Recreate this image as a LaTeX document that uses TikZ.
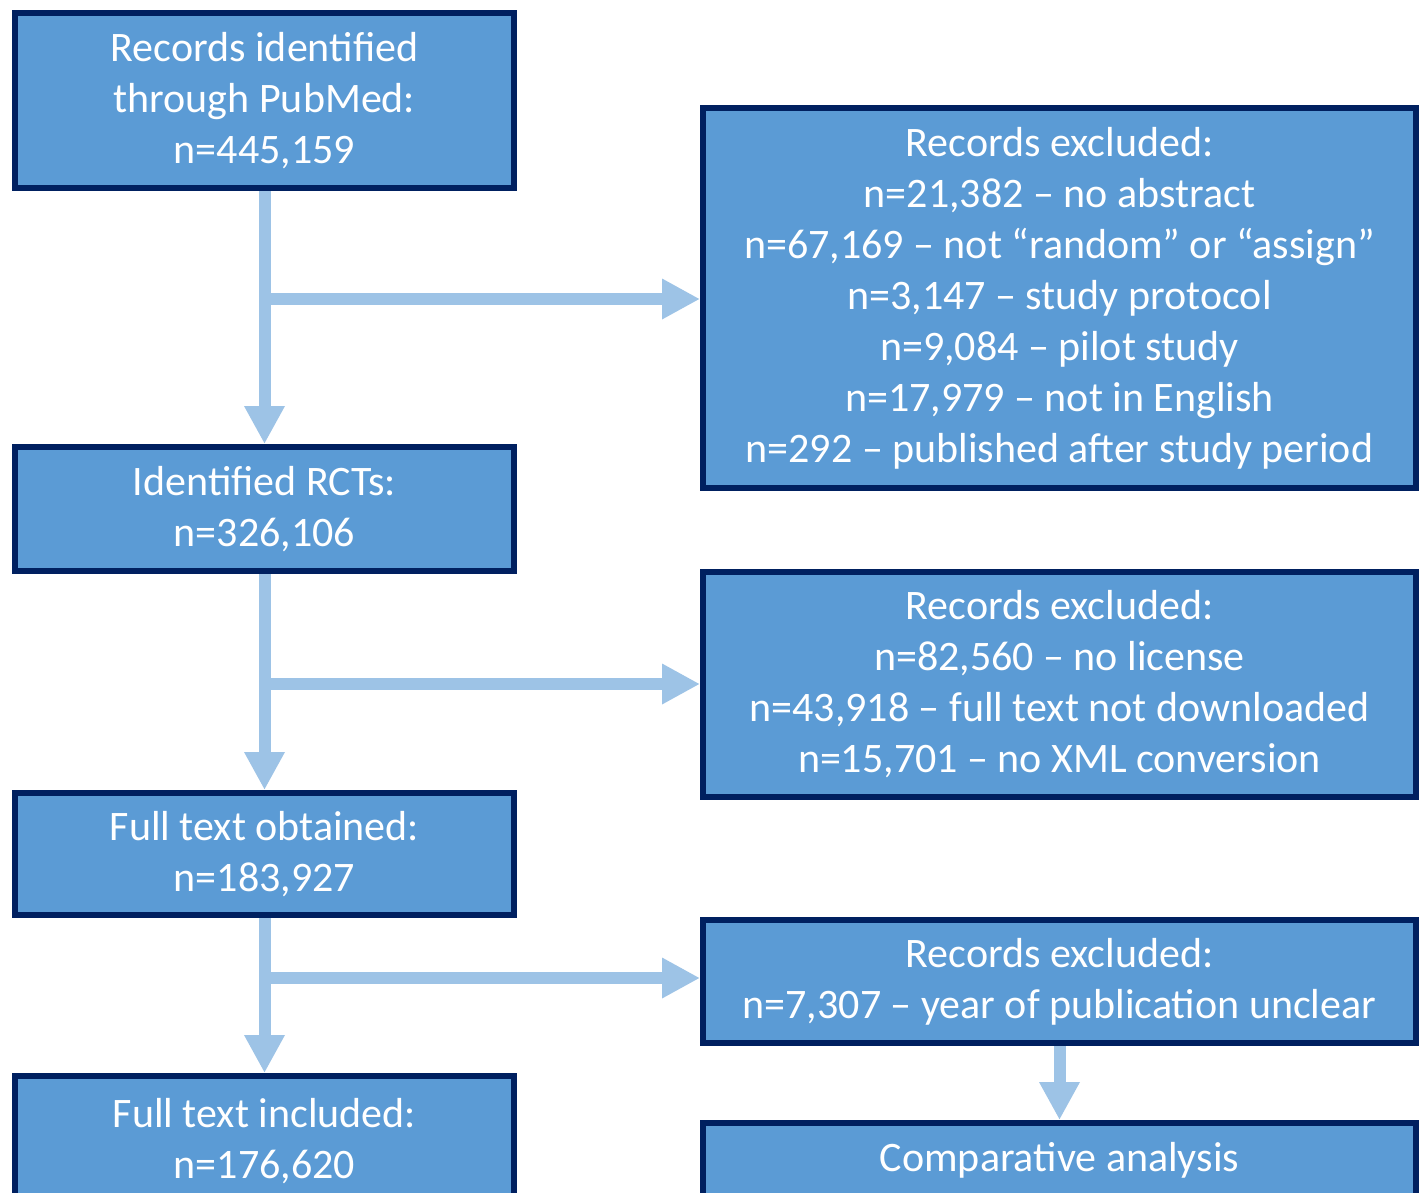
\documentclass[tikz,border=0pt]{standalone}
\usepackage{fontspec}
\setmainfont{Carlito}
\usetikzlibrary{arrows.meta}
\definecolor{boxfill}{HTML}{5B9BD5}
\definecolor{boxline}{HTML}{002060}
\definecolor{arrowc}{HTML}{9DC3E6}
\begin{document}
\begin{tikzpicture}[x=1pt,y=-1pt,
  flowbox/.style={draw=boxline, fill=boxfill, line width=6pt, rectangle,
    text=white, align=center, inner sep=0pt,
    font=\fontsize{42}{51}\selectfont},
  flowarrow/.style={draw=arrowc, line width=12pt,
    -{Triangle[length=38pt,width=38pt]}}
]
\useasboundingbox (0,0) rectangle (1422,1192);
\clip (0,0) rectangle (1422,1192);
\fill[white] (0,0) rectangle (1422,1192);

% left column
\node[flowbox, minimum width=499pt, minimum height=175pt] (b1) at (264.5,100.5)
  {Records identified\\through PubMed:\\n=445,159};
\node[flowbox, minimum width=499pt, minimum height=124pt] (b2) at (264.5,509)
  {Identified RCTs:\\n=326,106};
\node[flowbox, minimum width=499pt, minimum height=122pt] (b3) at (264.5,854)
  {Full text obtained:\\n=183,927};
\node[flowbox, minimum width=499pt, minimum height=130pt] (b4) at (264.5,1141)
  {Full text included:\\n=176,620};

% right column
\node[flowbox, minimum width=713pt, minimum height=380pt] (r1) at (1059.5,298)
  {Records excluded:\\n=21,382 – no abstract\\n=67,169 – not “random” or “assign”\\n=3,147 – study protocol\\n=9,084 – pilot study\\n=17,979 – not in English\\n=292 – published after study period};
\node[flowbox, minimum width=713pt, minimum height=225pt] (r2) at (1059.5,684.5)
  {Records excluded:\\n=82,560 – no license\\n=43,918 – full text not downloaded\\n=15,701 – no XML conversion};
\node[flowbox, minimum width=713pt, minimum height=123pt] (r3) at (1059.5,981.5)
  {Records excluded:\\n=7,307 – year of publication unclear};
\node[flowbox, minimum width=713pt, minimum height=74pt] (r4) at (1059.5,1160)
  {Comparative analysis};

% connectors
\coordinate (j1) at (264.5,299);
\coordinate (j2) at (264.5,684);
\coordinate (j3) at (264.5,978);

\path[flowarrow] (b1.south) -- (b2.north);
\path[flowarrow] (j1) -- (r1.west |- j1);
\path[flowarrow] (b2.south) -- (b3.north);
\path[flowarrow] (j2) -- (r2.west |- j2);
\path[flowarrow] (b3.south) -- (b4.north);
\path[flowarrow] (j3) -- (r3.west |- j3);
\path[flowarrow] (r3.south) -- (r4.north);
\end{tikzpicture}
\end{document}
